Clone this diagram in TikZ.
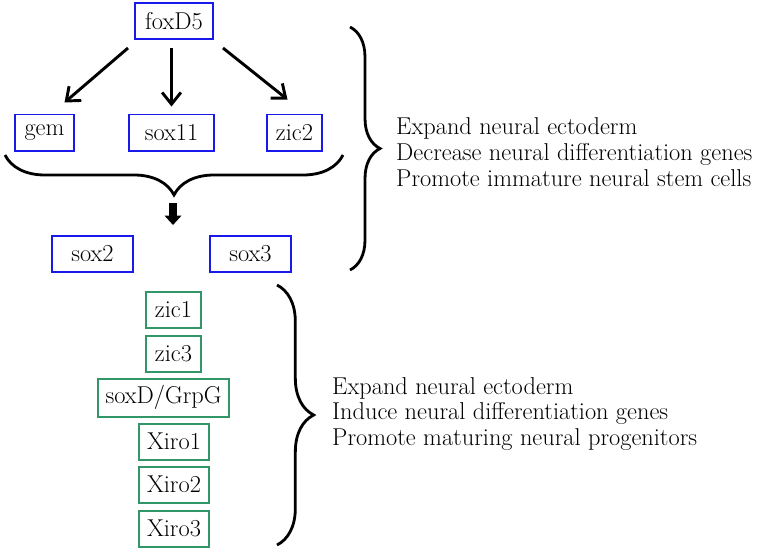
\documentclass[tikz,border=0pt]{standalone}
\usepackage{xcolor}
\usepackage{tikz}
\usetikzlibrary{arrows.meta,decorations.pathreplacing}

\definecolor{earlyblue}{RGB}{25,25,235}
\definecolor{lategreen}{RGB}{50,150,105}

\begin{document}
\begin{tikzpicture}[x=0.03cm, y=-0.03cm,
% common options for the gene boxes:
early/.style = {draw=earlyblue, line width=1.7pt, align=center, inner sep=0,
            minimum height=1.08cm, font=\fontsize{20.8}{22}\selectfont},
late/.style = {draw=lategreen, line width=1.7pt, align=center, inner sep=0,
            minimum height=1.08cm, font=\fontsize{20.8}{22}\selectfont},
% common options for the braces and arrows:
curly/.style = {decorate, decoration={brace, amplitude=#1}, line width=2.4pt},
arr/.style = {-{Straight Barb[length=10pt,width=16pt]}, line width=2.5pt},
bigarr/.style = {-{Triangle[length=8pt,width=14pt]}, line width=7pt},
effect/.style = {align=left, anchor=west, inner sep=0, font=\fontsize{20.8}{22.1}\selectfont}]
\useasboundingbox (0,0) rectangle (763,553);
\node[early,minimum width=2.34cm] (foxD5) at (174,21) {foxD5};
\node[early,minimum width=1.77cm] (gem) at (44.5,132.5) {gem};
\node[early,minimum width=2.55cm] (sox11) at (171.5,132.5) {sox11};
\node[early,minimum width=1.65cm] (zic2) at (294.5,132.5) {zic2};
\node[early,minimum width=2.43cm] (sox2) at (92.5,253.5) {sox2};
\node[early,minimum width=2.43cm] (sox3) at (250.5,253.5) {sox3};
\node[late,minimum width=1.65cm] (zic1) at (173.5,310) {zic1};
\node[late,minimum width=1.65cm] (zic3) at (173.5,353.5) {zic3};
\node[late,minimum width=3.93cm,minimum height=1.14cm] (soxD) at (163.5,397.5) {soxD/GrpG};
\node[late,minimum width=2.1cm] (Xiro1) at (174,441.5) {Xiro1};
\node[late,minimum width=2.1cm] (Xiro2) at (174,484.5) {Xiro2};
\node[late,minimum width=2.1cm] (Xiro3) at (174,528.5) {Xiro3};
\node[effect] (E1) at (396,152) {Expand neural ectoderm\\Decrease neural differentiation genes\\Promote immature neural stem cells};
\node[effect] (E2) at (332,414) {Expand neural ectoderm\\Induce neural differentiation genes\\Promote maturing neural progenitors};
% brace ends
\coordinate (B0a) at (343,155);
\coordinate (B0b) at (5,155);
\coordinate (B1a) at (350,27);
\coordinate (B1b) at (350,270);
\coordinate (B2a) at (277,285);
\coordinate (B2b) at (277,545);
\coordinate (fork) at (173,203);
\coordinate (merge) at (173,225);
\draw[arr] ([shift={(-6,8)}]foxD5.south west) -- ([shift={(20,-11)}]gem.north);
\draw[arr] ([shift={(0,8)}]sox11.north |- foxD5.south) -- ([shift={(0,-7)}]sox11.north);
\draw[arr] ([shift={(9,8)}]foxD5.south east) -- ([shift={(-7,-14)}]zic2.north);
\draw[curly=1.2cm] (B0a) -- (B0b);
\draw[bigarr] (fork) -- (merge);
\draw[curly=0.9cm] (B1a) -- (B1b);
\draw[curly=1.1cm] (B2a) -- (B2b);
\end{tikzpicture}
\end{document}
